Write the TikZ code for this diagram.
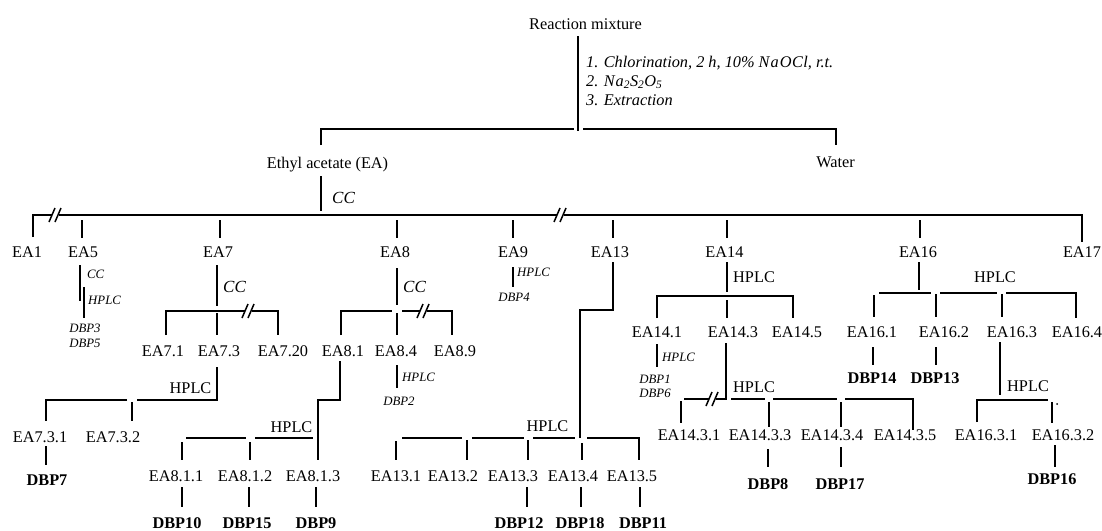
\documentclass[tikz,border=0pt]{standalone}
\usepackage{fontspec}
\setmainfont{Liberation Serif}
\tikzset{
  lbl/.style={font=\fontsize{16.3}{19}\selectfont, inner sep=0pt, anchor=base},
  lblw/.style={lbl, anchor=base west},
  dbp/.style={font=\fontsize{16.3}{19}\selectfont\bfseries, inner sep=0pt, anchor=base},
  sml/.style={font=\fontsize{12.8}{15}\selectfont\itshape, inner sep=0pt, anchor=base},
  smlw/.style={sml, anchor=base west},
  cclbl/.style={font=\fontsize{17}{20}\selectfont\itshape, inner sep=0pt, anchor=base west},
  stp/.style={font=\fontsize{16.3}{19}\selectfont\itshape, inner sep=0pt, anchor=base west},
  lnk/.style={line width=1.8pt},
  brk/.pic={\fill[white] (-3.5,-3) rectangle (3.5,3);
            \draw[line width=1.5pt] (-6,7) -- (0,-7) (0,7) -- (6,-7);}
}
\begin{document}
\begin{tikzpicture}[x=1pt,y=-1pt]
\useasboundingbox (0,0) rectangle (1102,530);
% ---------- top ----------
\node[lbl] (rm) at (585.5,29) {Reaction mixture};
\node[stp] (s1) at (586,67) {1. Chlorination, 2 h, 10\% N\kern1pt a\kern1pt O\kern0.5pt C\kern0.5pt l, r.t.};
\node[stp] (s2) at (586,86) {2. N\kern1pt a\textsubscript{2}S\textsubscript{2}O\textsubscript{5}};
\node[stp] (s3) at (586,105) {3. Extraction};
\node[lbl] (ea) at (327.5,168) {Ethyl acetate (EA)};
\node[lbl] (water) at (835.5,167) {Water};
\node[cclbl] (cc0) at (332,203) {CC};
\draw[lnk] (578,36) -- (578,131);
\draw[lnk] (321,145) -- (321,129) -- (574,129);
\draw[lnk] (583,129) -- (836,129) -- (836,145);
\draw[lnk] (321,176) -- (321,211);
% ---------- main fraction row ----------
\draw[lnk] (33,237) -- (33,215) -- (1082,215) -- (1082,242);
\pic at (55,215) {brk};
\pic at (560,215) {brk};
\foreach \x in {82,220,397,513,613,727,920} \draw[lnk] (\x,220) -- (\x,238);
\node[lbl] (ea1)  at (27,257.5)   {EA1};
\node[lbl] (ea5)  at (83,257.5)   {EA5};
\node[lbl] (ea7)  at (218,257.5)  {EA7};
\node[lbl] (ea8)  at (395,257.5)  {EA8};
\node[lbl] (ea9)  at (513,257.5)  {EA9};
\node[lbl] (ea13) at (610,257.5)  {EA13};
\node[lbl] (ea14) at (724.5,257.5){EA14};
\node[lbl] (ea16) at (918,257.5)  {EA16};
\node[lbl] (ea17) at (1082,257.5) {EA17};
% ---------- EA5 ----------
\draw[lnk] (80,265) -- (80,301);
\draw[lnk] (84,287) -- (84,318);
\node[smlw] (cc5) at (87,278.5) {CC};
\node[smlw] (hp5) at (88,304) {HPLC};
\node[sml] (dbp3) at (85,332) {DBP3};
\node[sml] (dbp5) at (85,347) {DBP5};
% ---------- EA7 ----------
\draw[lnk] (217,265) -- (217,306);
\node[cclbl] (cc7) at (223,292.5) {CC};
\draw[lnk] (166,335) -- (166,311) -- (278,311) -- (278,335);
\draw[lnk] (217,313) -- (217,335);
\pic at (248,311) {brk};
\node[lbl] (ea71)  at (163,356) {EA7.1};
\node[lbl] (ea73)  at (219,356) {EA7.3};
\node[lbl] (ea720) at (283,356) {EA7.20};
\draw[lnk] (217,367) -- (217,400) -- (137,400);
\draw[lnk] (127,400) -- (46,400) -- (46,421);
\draw[lnk] (132,402) -- (132,421);
\node[lbl] (hp73) at (190.5,393.5) {HPLC};
\node[lbl] (ea731) at (40,442) {EA7.3.1};
\node[lbl] (ea732) at (113,442) {EA7.3.2};
\draw[lnk] (46,446) -- (46,465);
\node[dbp] (dbp7) at (47,485) {DBP7};
% ---------- EA8 ----------
\draw[lnk] (397,268) -- (397,305);
\node[cclbl] (cc8) at (403,292.5) {CC};
\draw[lnk] (341,335) -- (341,311) -- (392,311);
\draw[lnk] (402,311) -- (452,311) -- (452,335);
\draw[lnk] (397,313) -- (397,335);
\pic at (423,311) {brk};
\node[lbl] (ea81) at (343,356) {EA8.1};
\node[lbl] (ea84) at (396,356) {EA8.4};
\node[lbl] (ea89) at (455,356) {EA8.9};
\draw[lnk] (397,365) -- (397,388);
\node[smlw] (hp84) at (402,381) {HPLC};
\node[sml] (dbp2) at (399,405) {DBP2};
% EA8.1 branch
\draw[lnk] (340,361) -- (340,400) -- (318,400) -- (318,460);
\draw[lnk] (186,438) -- (246,438);
\draw[lnk] (255,438) -- (313,438);
\draw[lnk] (182,442) -- (182,460);
\draw[lnk] (250,442) -- (250,460);
\node[lbl] (hp81) at (291.5,432) {HPLC};
\node[lbl] (ea811) at (176,481) {EA8.1.1};
\node[lbl] (ea812) at (245,481) {EA8.1.2};
\node[lbl] (ea813) at (313,481) {EA8.1.3};
\foreach \x in {182,249,316} \draw[lnk] (\x,487) -- (\x,507);
\node[dbp] (dbp10) at (177,528) {DBP10};
\node[dbp] (dbp15) at (247,528) {DBP15};
\node[dbp] (dbp9)  at (316,528) {DBP9};
% ---------- EA9 ----------
\draw[lnk] (513,267) -- (513,287);
\node[smlw] (hp9) at (517,276) {HPLC};
\node[sml] (dbp4) at (514,301) {DBP4};
% ---------- EA13 ----------
\draw[lnk] (613,262) -- (613,310) -- (580,310) -- (580,438);
\draw[lnk] (402,438) -- (462,438);
\draw[lnk] (472,438) -- (524,438);
\draw[lnk] (533,438) -- (575,438);
\draw[lnk] (587,438) -- (639,438) -- (639,460);
\draw[lnk] (396,441) -- (396,460);
\draw[lnk] (467,440) -- (467,460);
\draw[lnk] (528,440) -- (528,460);
\draw[lnk] (582,443) -- (582,460);
\node[lbl] (hp13) at (547.5,431.5) {HPLC};
\node[lbl] (ea131) at (396,481) {EA13.1};
\node[lbl] (ea132) at (453,481) {EA13.2};
\node[lbl] (ea133) at (513,481) {EA13.3};
\node[lbl] (ea134) at (573,481) {EA13.4};
\node[lbl] (ea135) at (632,481) {EA13.5};
\foreach \x in {527,581,640} \draw[lnk] (\x,487) -- (\x,507);
\node[dbp] (dbp12) at (519,528) {DBP12};
\node[dbp] (dbp18) at (580,528) {DBP18};
\node[dbp] (dbp11) at (643,528) {DBP11};
% ---------- EA14 ----------
\draw[lnk] (727,262) -- (727,292);
\node[lblw] (hp14) at (733,282.5) {HPLC};
\draw[lnk] (657,318) -- (657,296) -- (793,296) -- (793,318);
\draw[lnk] (727,300) -- (727,318);
\node[lbl] (ea141) at (657,337.5) {EA14.1};
\node[lbl] (ea143) at (733,337.5) {EA14.3};
\node[lbl] (ea145) at (797,337.5) {EA14.5};
\draw[lnk] (657,344) -- (657,367);
\node[smlw] (hp141) at (662,361) {HPLC};
\node[sml] (dbp1) at (655,383) {DBP1};
\node[sml] (dbp6) at (655,397) {DBP6};
\draw[lnk] (726,343) -- (726,399) -- (684,399);
\pic at (712,399) {brk};
\draw[lnk] (681,401) -- (681,423);
\draw[lnk] (731,399) -- (765,399);
\draw[lnk] (773,399) -- (837,399);
\draw[lnk] (845,399) -- (913,399) -- (913,430);
\draw[lnk] (769,402) -- (769,427);
\draw[lnk] (841,402) -- (841,427);
\node[lblw] (hp143) at (733,392.5) {HPLC};
\node[lbl] (ea1431) at (689,440) {EA14.3.1};
\node[lbl] (ea1433) at (760,440) {EA14.3.3};
\node[lbl] (ea1434) at (832,440) {EA14.3.4};
\node[lbl] (ea1435) at (905,440) {EA14.3.5};
\draw[lnk] (768,449) -- (768,467);
\draw[lnk] (841,447) -- (841,467);
\node[dbp] (dbp8)  at (768,489) {DBP8};
\node[dbp] (dbp17) at (840,489) {DBP17};
% ---------- EA16 ----------
\draw[lnk] (919,262) -- (919,290);
\node[lbl] (hp16) at (995,282.5) {HPLC};
\draw[lnk] (879,293) -- (931,293);
\draw[lnk] (940,293) -- (997,293);
\draw[lnk] (1006,293) -- (1076,293) -- (1076,318);
\draw[lnk] (874,295) -- (874,317);
\draw[lnk] (936,294) -- (936,317);
\draw[lnk] (1002,294) -- (1002,317);
\node[lbl] (ea161) at (872,337.5) {EA16.1};
\node[lbl] (ea162) at (944,337.5) {EA16.2};
\node[lbl] (ea163) at (1012,337.5) {EA16.3};
\node[lbl] (ea164) at (1077,337.5) {EA16.4};
\draw[lnk] (873,347) -- (873,365);
\draw[lnk] (936,347) -- (936,365);
\node[dbp] (dbp14) at (872,383.5) {DBP14};
\node[dbp] (dbp13) at (935,383.5) {DBP13};
\draw[lnk] (1000,342) -- (1000,395);
\node[lblw] (hp163) at (1007,391.5) {HPLC};
\draw[lnk] (977,422) -- (977,400) -- (1048,400);
\draw[lnk] (1052,402) -- (1052,423);
\fill (1057,404) circle (1pt);
\node[lbl] (ea1631) at (986,440) {EA16.3.1};
\node[lbl] (ea1632) at (1063,440) {EA16.3.2};
\draw[lnk] (1055,445) -- (1055,467);
\node[dbp] (dbp16) at (1052,484.5) {DBP16};
\end{tikzpicture}
\end{document}
